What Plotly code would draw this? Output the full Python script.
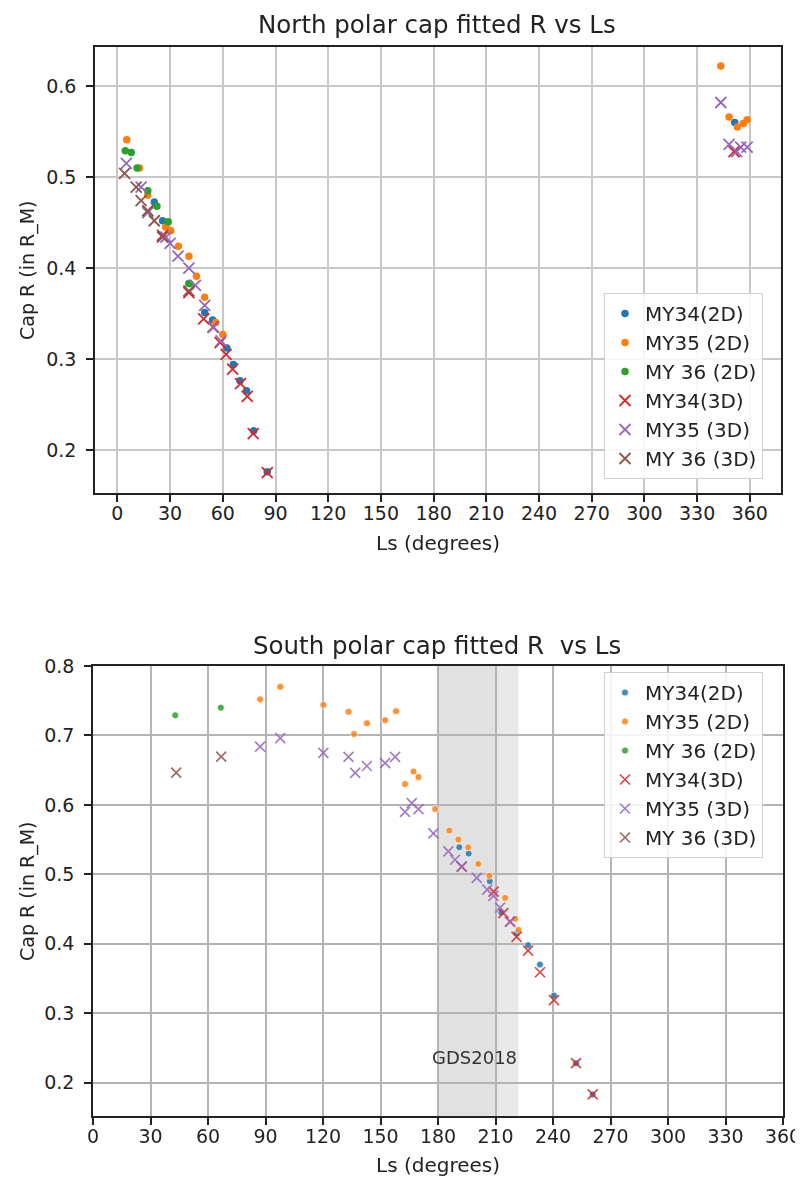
import plotly.graph_objects as go

W, H = 803, 1178
OFF = 8  # the page body has an 8px margin; positions below are reference pixels minus this

# ---------------- North (top) data ----------------
n_my34_2d_ls = [21.0, 25.7, 40.7, 49.7, 54.2, 62.3, 66.0, 69.8, 73.5, 77.6, 85.3, 351.4]
n_my34_2d_r = [0.4725, 0.452, 0.383, 0.351, 0.343, 0.312, 0.294, 0.276, 0.265, 0.221, 0.176, 0.560]
n_my35_2d_ls = [5.3, 12.6, 17.3, 27.5, 30.4, 34.7, 40.7, 45.0, 49.7, 56.0, 60.0, 343.5, 348.2, 352.9, 356.3, 358.5]
n_my35_2d_r = [0.541, 0.510, 0.480, 0.445, 0.441, 0.424, 0.413, 0.391, 0.368, 0.340, 0.327, 0.622, 0.566, 0.555, 0.559, 0.563]
n_my36_2d_ls = [4.5, 7.9, 11.2, 17.3, 22.5, 28.9, 41.0]
n_my36_2d_r = [0.529, 0.527, 0.510, 0.485, 0.468, 0.451, 0.383]
n_my34_3d_ls = [25.7, 40.7, 49.1, 54.4, 58.5, 61.9, 65.6, 70.1, 73.9, 77.3, 85.3, 351.0]
n_my34_3d_r = [0.436, 0.373, 0.344, 0.335, 0.318, 0.305, 0.289, 0.273, 0.259, 0.218, 0.175, 0.528]
n_my35_3d_ls = [5.1, 13.5, 17.3, 27.6, 30.0, 34.5, 40.7, 44.4, 49.7, 54.8, 59.0, 343.5, 348.2, 352.5, 354.8, 358.5]
n_my35_3d_r = [0.515, 0.489, 0.461, 0.434, 0.427, 0.413, 0.400, 0.381, 0.359, 0.335, 0.320, 0.582, 0.536, 0.528, 0.533, 0.533]
n_my36_3d_ls = [4.1, 10.7, 13.5, 17.3, 21.0, 25.7, 40.7]
n_my36_3d_r = [0.504, 0.489, 0.474, 0.463, 0.452, 0.434, 0.375]

# ---------------- South (bottom) data ----------------
s_my34_2d_ls = [191.1, 196.0, 207.0, 213.0, 221.0, 227.0, 233.2, 240.5, 252.0, 260.7]
s_my34_2d_r = [0.539, 0.530, 0.490, 0.445, 0.415, 0.398, 0.370, 0.3255, 0.228, 0.183]
s_my35_2d_ls = [87.2, 97.7, 120.2, 133.3, 136.2, 142.9, 152.4, 158.1, 162.8, 167.2, 169.8, 178.5,
                185.9, 190.6, 195.8, 201.0, 206.8, 215.0, 220.2, 222.0]
s_my35_2d_r = [0.752, 0.770, 0.744, 0.734, 0.702, 0.7175, 0.722, 0.735, 0.630, 0.648, 0.640, 0.594,
               0.563, 0.550, 0.539, 0.515, 0.498, 0.466, 0.436, 0.420]
s_my36_2d_ls = [42.9, 66.7]
s_my36_2d_r = [0.729, 0.740]
s_my34_3d_ls = [192.4, 209.0, 214.1, 217.6, 221.0, 227.0, 233.2, 240.5, 252.0, 260.7]
s_my34_3d_r = [0.511, 0.475, 0.444, 0.432, 0.410, 0.390, 0.359, 0.319, 0.228, 0.183]
s_my35_3d_ls = [87.2, 97.7, 120.2, 133.3, 136.8, 142.9, 152.4, 157.6, 162.8, 166.3, 169.8, 177.6,
                185.4, 188.9, 192.4, 200.2, 205.7, 208.9, 212.4, 217.6]
s_my35_3d_r = [0.684, 0.696, 0.675, 0.669, 0.646, 0.656, 0.660, 0.669, 0.590, 0.6025, 0.594, 0.559,
               0.533, 0.521, 0.511, 0.495, 0.478, 0.469, 0.452, 0.432]
s_my36_3d_ls = [43.4, 66.9]
s_my36_3d_r = [0.6465, 0.6695]

names = ["MY34(2D)", "MY35 (2D)", "MY 36 (2D)", "MY34(3D)", "MY35 (3D)", "MY 36 (3D)"]
colors = ["#1f77b4", "#ff7f0e", "#2ca02c", "#d62728", "#9467bd", "#8c564b"]
x_ticks = list(range(0, 361, 30))
top_yticks = [0.2, 0.3, 0.4, 0.5, 0.6]
bot_yticks = [0.2, 0.3, 0.4, 0.5, 0.6, 0.7, 0.8]
gds_span = [180, 222]

FONT = "DejaVu Sans"
TXT = "#222222"


def px(x):
    return (x - OFF) / W


def py(y):
    return 1 - (y - OFF) / H


fig = go.Figure()

north = [(n_my34_2d_ls, n_my34_2d_r), (n_my35_2d_ls, n_my35_2d_r), (n_my36_2d_ls, n_my36_2d_r),
         (n_my34_3d_ls, n_my34_3d_r), (n_my35_3d_ls, n_my35_3d_r), (n_my36_3d_ls, n_my36_3d_r)]
south = [(s_my34_2d_ls, s_my34_2d_r), (s_my35_2d_ls, s_my35_2d_r), (s_my36_2d_ls, s_my36_2d_r),
         (s_my34_3d_ls, s_my34_3d_r), (s_my35_3d_ls, s_my35_3d_r), (s_my36_3d_ls, s_my36_3d_r)]

for i, (xs, ys) in enumerate(north):
    if i < 3:
        mk = dict(symbol="circle", size=7.5, color=colors[i], line=dict(width=0))
    else:
        mk = dict(symbol="x-thin", size=11, color=colors[i], line=dict(width=1.8, color=colors[i]))
    fig.add_trace(go.Scatter(x=xs, y=ys, mode="markers", name=names[i], marker=mk,
                             xaxis="x", yaxis="y", legend="legend"))

for i, (xs, ys) in enumerate(south):
    if i < 3:
        mk = dict(symbol="circle", size=7, color=colors[i], line=dict(width=0.8, color="white"))
    else:
        mk = dict(symbol="x-thin", size=10, color=colors[i], line=dict(width=1.7, color=colors[i]))
    fig.add_trace(go.Scatter(x=xs, y=ys, mode="markers", name=names[i], marker=mk, opacity=0.85,
                             xaxis="x2", yaxis="y2", legend="legend2"))

axis_common = dict(ticks="outside", ticklen=7, tickwidth=1.5, tickcolor="#222",
                   showline=True, mirror=True, linecolor="#222", linewidth=1.6,
                   zeroline=False, tickfont=dict(family=FONT, size=19, color=TXT),
                   showgrid=True, automargin=False)

fig.update_layout(
    template="none",
    width=W, height=H, margin=dict(l=0, r=0, t=0, b=0),
    paper_bgcolor="white", plot_bgcolor="white",
    font=dict(family=FONT, color=TXT),
    xaxis=dict(domain=[px(95), px(781)], range=[-12.75, 377.75], tickvals=x_ticks,
               anchor="y", gridcolor="#c8c8c8", gridwidth=1.6, ticklabelstandoff=-5, **axis_common),
    yaxis=dict(domain=[py(493), py(47)], range=[0.1527, 0.643], tickvals=top_yticks,
               tickformat=".1f", anchor="x", gridcolor="#c8c8c8", gridwidth=1.6,
               ticklabelstandoff=6, **axis_common),
    xaxis2=dict(domain=[px(93), px(783)], range=[0, 360], tickvals=x_ticks,
                anchor="y2", gridcolor="#b4b4b4", gridwidth=1.5, ticklabelstandoff=-5, **axis_common),
    yaxis2=dict(domain=[py(1116), py(666)], range=[0.152, 0.800], tickvals=bot_yticks,
                tickformat=".1f", anchor="x2", gridcolor="#b4b4b4", gridwidth=1.5,
                ticklabelstandoff=6, **axis_common),
    legend=dict(x=px(604), y=py(293), xanchor="left", yanchor="top",
                bgcolor="rgba(255,255,255,0.85)", bordercolor="#d0d0d0", borderwidth=1,
                font=dict(family=FONT, size=20, color=TXT), tracegroupgap=0),
    legend2=dict(x=px(604), y=py(672), xanchor="left", yanchor="top",
                 bgcolor="rgba(255,255,255,0.85)", bordercolor="#d0d0d0", borderwidth=1,
                 font=dict(family=FONT, size=20, color=TXT), tracegroupgap=0),
)

# GDS2018 shaded band
fig.add_shape(type="rect", xref="x2", yref="y2 domain", x0=gds_span[0], x1=gds_span[1], y0=0, y1=1,
              fillcolor="#e9e9e9", line=dict(width=0), layer="below")
fig.add_shape(type="rect", xref="x2", yref="y2 domain", x0=gds_span[0], x1=210, y0=0, y1=1,
              fillcolor="#e1e1e1", line=dict(width=0), layer="below")

ann = [
    dict(text="North polar cap fitted R vs Ls", x=437, y=24, size=24.5),
    dict(text="South polar cap fitted R\u00a0 vs Ls", x=437, y=645, size=24.5),
    dict(text="Ls (degrees)", x=438, y=543, size=20),
    dict(text="Ls (degrees)", x=438, y=1165, size=20),
]
for a in ann:
    fig.add_annotation(text=a["text"], xref="paper", yref="paper", x=px(a["x"]), y=py(a["y"]),
                       xanchor="center", yanchor="middle", showarrow=False,
                       font=dict(family=FONT, size=a["size"], color=TXT))
for yc in [270, 891]:
    fig.add_annotation(text="Cap R (in R_M)", xref="paper", yref="paper", x=px(27), y=py(yc),
                       xanchor="center", yanchor="middle", showarrow=False, textangle=-90,
                       font=dict(family=FONT, size=19, color=TXT))
fig.add_annotation(text="GDS2018", xref="x2", yref="y2", x=198.8, y=0.236, showarrow=False,
                   xanchor="center", yanchor="middle", font=dict(family=FONT, size=18, color="#333"))

fig.write_html("out.html")
